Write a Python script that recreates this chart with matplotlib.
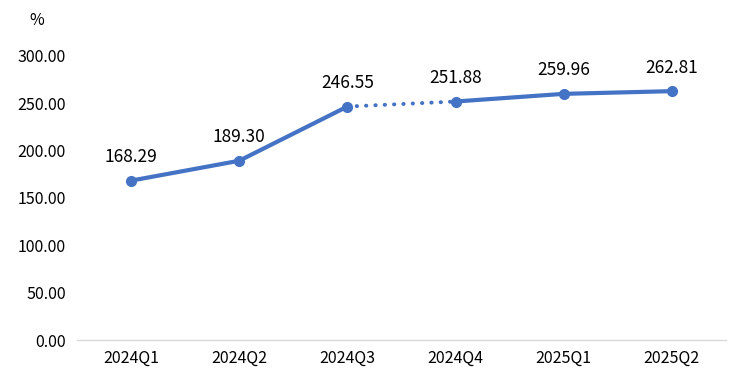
import matplotlib
matplotlib.use("Agg")
import matplotlib.pyplot as plt

quarters = ["2024Q1", "2024Q2", "2024Q3", "2024Q4", "2025Q1", "2025Q2"]
values = [168.29, 189.30, 246.55, 251.88, 259.96, 262.81]
yticks = [0, 50, 100, 150, 200, 250, 300]

plt.rcParams['font.family'] = ['Noto Sans CJK SC', 'DejaVu Sans']
color = '#4472C4'

fig = plt.figure(figsize=(7.43, 3.79), dpi=100)
ax = fig.add_axes([0.1036, 0.1029, 0.8734, 0.7495])

x = list(range(len(quarters)))
# solid parts, dotted between Q3 and Q4
ax.plot(x[:3], values[:3], color=color, lw=3, solid_capstyle='round', zorder=2)
ax.plot(x[3:], values[3:], color=color, lw=3, solid_capstyle='round', zorder=2)
ax.plot(x[2:4], values[2:4], color=color, lw=2.8, linestyle=(0, (0.1, 2.3)),
        dash_capstyle='round', zorder=2)
ax.plot(x, values, 'o', color=color, ms=7, zorder=3, clip_on=False)

for xi, v in zip(x, values):
    ax.annotate(f"{v:.2f}", (xi, v), xytext=(0, 17), textcoords='offset points',
                ha='center', va='center', fontsize=12.5, color='#000000')

ax.set_xlim(-0.5, len(quarters) - 0.5)
ax.set_ylim(0, 300)
ax.set_xticks(x)
ax.set_xticklabels(quarters, fontsize=11.5)
ax.set_yticks(yticks)
ax.set_yticklabels([f"{t:.2f}" for t in yticks], fontsize=11.5)
ax.tick_params(length=0, pad=7)
ax.tick_params(axis='y', pad=8)

for s in ['top', 'right', 'left']:
    ax.spines[s].set_visible(False)
ax.spines['bottom'].set_color('#d9d9d9')
ax.spines['bottom'].set_linewidth(1)

fig.text(0.05, 0.945, "%", fontsize=11.5, ha='center', va='center')

fig.savefig("out.png", dpi=100)
